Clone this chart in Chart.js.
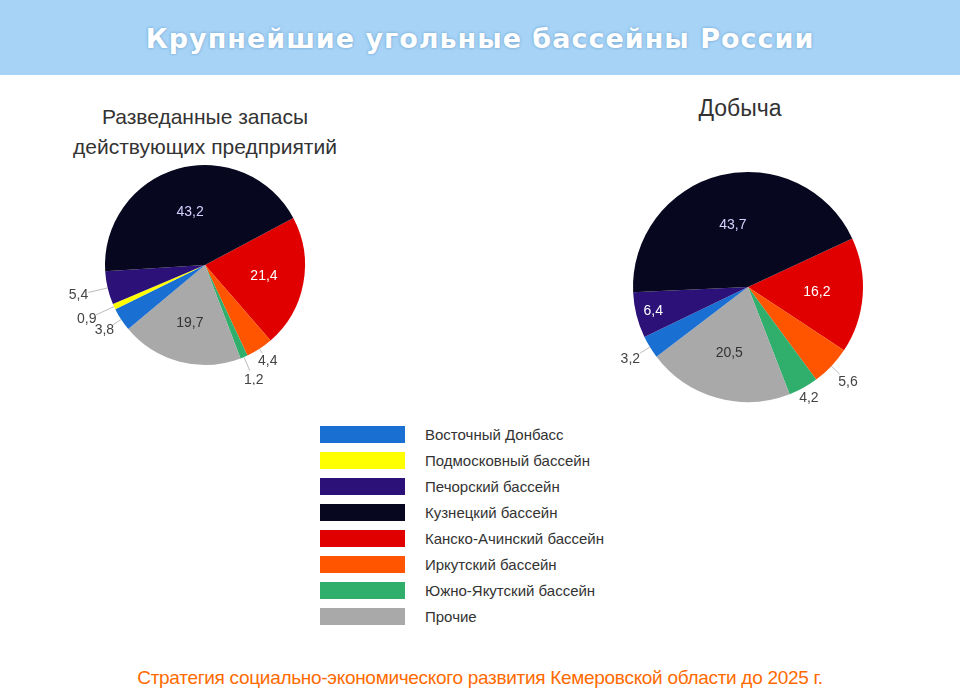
<!DOCTYPE html>
<html><head><meta charset="utf-8">
<script src="https://cdn.jsdelivr.net/npm/chart.js@4"></script>
<style>
body{margin:0;width:960px;height:696px;background:#fff;position:relative;overflow:hidden;font-family:"Liberation Sans",Arial,sans-serif}
#hdr{position:absolute;left:0;top:0;width:960px;height:75px;background:#a6d3f6;color:#fff;font:bold 27px "DejaVu Sans",sans-serif;letter-spacing:1px;text-align:center;line-height:78px;text-shadow:0 0 3px #6a9cc8}
.ttl{position:absolute;color:#333;font-size:21px;text-align:center;line-height:30px}
canvas{position:absolute}
#legend{position:absolute;left:320px;top:426px}
.li{height:26px;display:flex;align-items:flex-start;font-size:15px;color:#333}
.sw{width:85px;height:17px;margin-right:20px}
#foot{position:absolute;left:0;width:960px;top:667px;text-align:center;color:#ff6a00;font-size:19px;letter-spacing:-0.3px}
</style></head><body>
<div id="hdr">Крупнейшие угольные бассейны России</div>
<div class="ttl" style="left:40px;top:102px;width:330px">Разведанные запасы<br>действующих предприятий</div>
<div class="ttl" style="left:640px;top:93px;width:200px;font-size:23px">Добыча</div>
<div style="position:absolute;left:45px;top:145px;width:320px;height:240px"><canvas id="c1"></canvas></div>
<div style="position:absolute;left:588px;top:152px;width:320px;height:270px"><canvas id="c2"></canvas></div>
<div id="legend"></div>
<div id="foot">Стратегия социально-экономического развития Кемеровской области до 2025 г.</div>
<script>
// legend order
const basins = ['Восточный Донбасс', 'Подмосковный бассейн', 'Печорский бассейн', 'Кузнецкий бассейн',
    'Канско-Ачинский бассейн', 'Иркутский бассейн', 'Южно-Якутский бассейн', 'Прочие'];
const colors = ['#1a6fd2', '#ffff00', '#2b1178', '#07071f', '#e00000', '#ff5500', '#2fae6c', '#a9a9a9'];

// same order as legend
const reserves = [3.8, 0.9, 5.4, 43.2, 21.4, 4.4, 1.2, 19.7];
const output = [3.2, 0, 6.4, 43.7, 16.2, 5.6, 4.2, 20.5];

// drawing order around the pie (starting from Канско-Ачинский clockwise)
const sliceOrder = [4, 5, 6, 7, 0, 1, 2, 3];

// which labels go inside
const insideReserves = [3, 4, 7];
const insideOutput = [2, 3, 4, 7];

const legend = document.getElementById('legend');
basins.forEach((b, i) => {
    const row = document.createElement('div');
    row.className = 'li';
    row.innerHTML = '<div class="sw" style="background:' + colors[i] + '"></div>' + b;
    legend.appendChild(row);
});

const labelPlugin = {
    id: 'lbl',
    afterDatasetsDraw(chart, args, opts) {
        const ctx = chart.ctx;
        const meta = chart.getDatasetMeta(0);
        const ds = chart.data.datasets[0];
        ctx.save();
        ctx.font = '14px "Liberation Sans", Arial';
        ctx.textAlign = 'center';
        ctx.textBaseline = 'middle';
        meta.data.forEach((arc, k) => {
            const idx = sliceOrder[k];
            const v = ds.data[k];
            if (!v) return;
            const mid = (arc.startAngle + arc.endAngle) / 2;
            const r = arc.outerRadius;
            const txt = String(v).replace('.', ',');
            if (opts.inside.includes(idx)) {
                const f = idx == 3 ? 0.55 : (idx == 2 ? 0.85 : 0.6);
                ctx.fillStyle = idx == 7 ? '#333' : (idx == 3 ? '#d8d0ff' : '#fff');
                ctx.fillText(txt, arc.x + Math.cos(mid) * r * f, arc.y + Math.sin(mid) * r * f);
            } else {
                const off = opts.off[idx] || 1.25;
                const x1 = arc.x + Math.cos(mid) * r, y1 = arc.y + Math.sin(mid) * r;
                const x2 = arc.x + Math.cos(mid) * r * (off - 0.1), y2 = arc.y + Math.sin(mid) * r * (off - 0.1);
                ctx.strokeStyle = '#bbb';
                ctx.lineWidth = 1;
                ctx.beginPath(); ctx.moveTo(x1, y1); ctx.lineTo(x2, y2); ctx.stroke();
                ctx.fillStyle = '#444';
                ctx.fillText(txt, arc.x + Math.cos(mid) * r * off, arc.y + Math.sin(mid) * r * off);
            }
        });
        ctx.restore();
    }
};

function makePie(id, values, rotation, pad, inside, off) {
    new Chart(document.getElementById(id), {
        type: 'pie',
        data: {
            labels: sliceOrder.map(i => basins[i]),
            datasets: [{
                data: sliceOrder.map(i => values[i]),
                backgroundColor: sliceOrder.map(i => colors[i]),
                borderWidth: 0
            }]
        },
        options: {
            responsive: true,
            maintainAspectRatio: false,
            animation: false,
            rotation: rotation,
            layout: { padding: pad },
            plugins: { legend: { display: false }, tooltip: { enabled: false }, lbl: { inside: inside, off: off } }
        },
        plugins: [labelPlugin]
    });
}

makePie('c1', reserves, 62, { top: 20, bottom: 20, left: 60, right: 60 }, insideReserves, { 0: 1.2, 1: 1.3, 2: 1.3, 5: 1.15, 6: 1.25 });
makePie('c2', output, 65, { top: 20, bottom: 20, left: 45, right: 45 }, insideOutput, { 0: 1.2, 5: 1.2, 6: 1.1 });
</script>
</body></html>
